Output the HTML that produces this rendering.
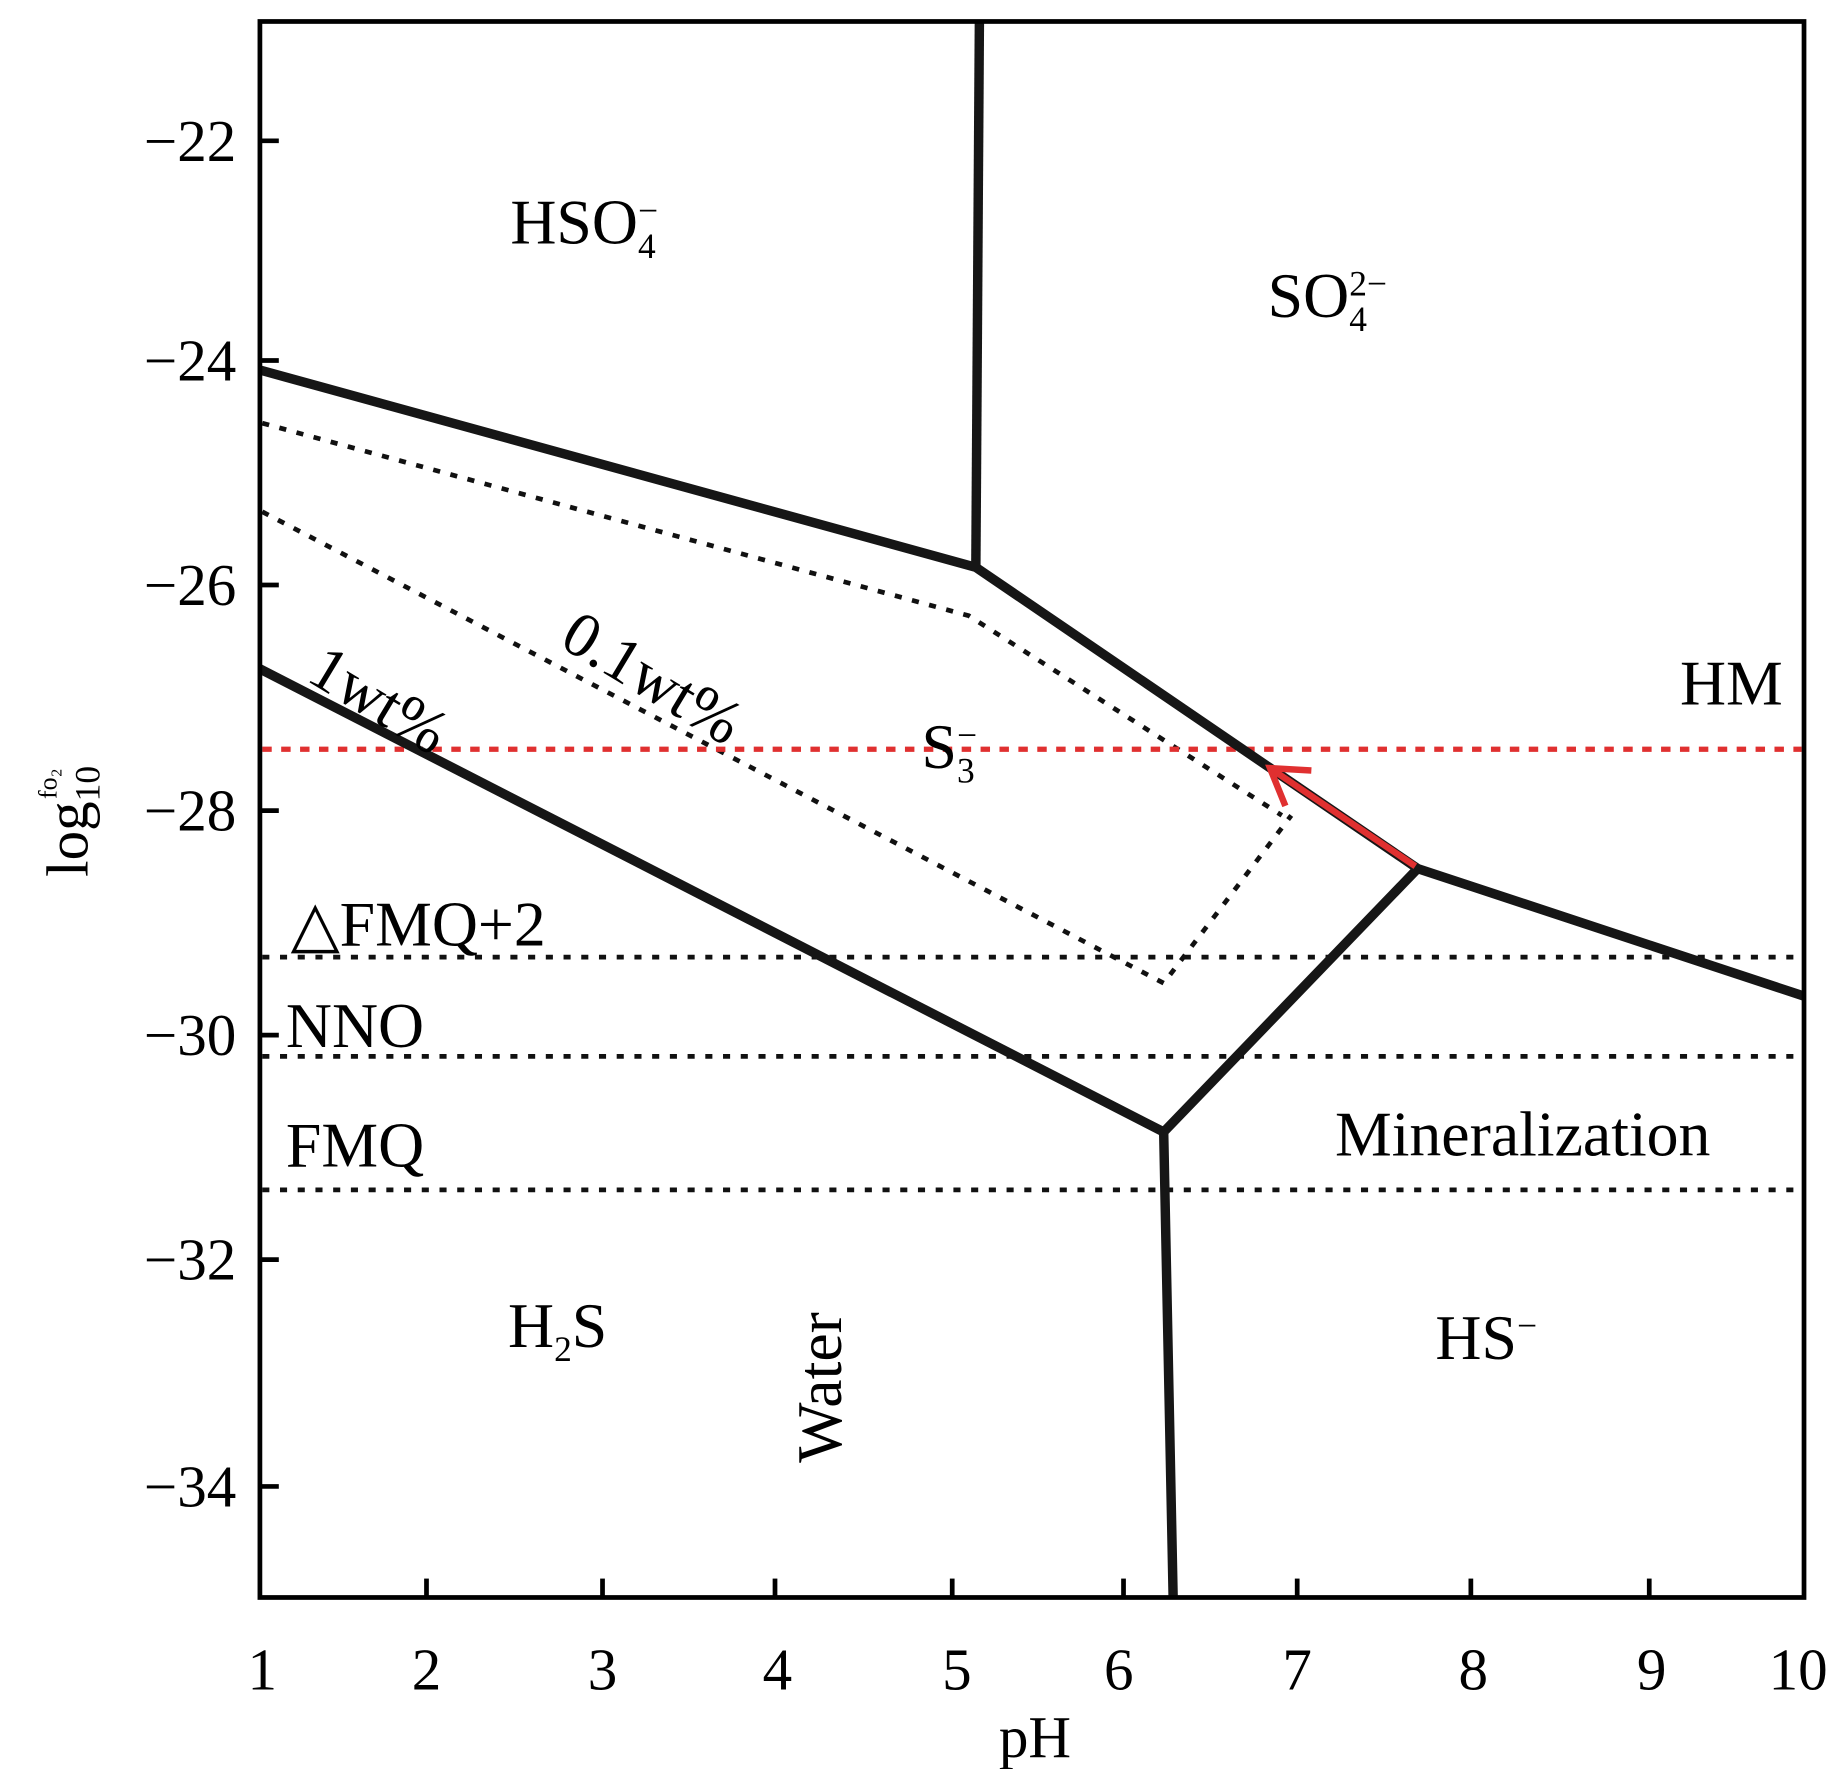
<!DOCTYPE html>
<html><head><meta charset="utf-8"><style>html,body{margin:0;padding:0;background:#fff}svg{display:block}</style></head>
<body>
<svg width="1843" height="1769" viewBox="0 0 1560 1497" xmlns="http://www.w3.org/2000/svg" font-family="'Liberation Serif', serif">
<rect width="1560" height="1497" fill="#fff"/>
<g stroke="#111" stroke-width="4" stroke-dasharray="6,9" fill="none">
<line x1="222" y1="810" x2="1525" y2="810"/>
<line x1="222" y1="894" x2="1525" y2="894"/>
<line x1="222" y1="1007" x2="1525" y2="1007"/>
<polyline points="222,358 820,521 1085,690"/>
<polyline points="222,433 985,832 1093,690"/>
</g>
<line x1="222" y1="634" x2="1525" y2="634" stroke="#e03030" stroke-width="4.5" stroke-dasharray="8,8"/>
<g stroke="#161616" stroke-width="8" fill="none" stroke-linejoin="miter">
<polyline points="220,313 826,480 1200,735 1527,843"/>
<line x1="829" y1="18" x2="826" y2="480"/>
<polyline points="1200,735 985,958 993,1352"/>
<line x1="220" y1="566" x2="985" y2="958"/>
</g>
<g stroke="#e03030" stroke-width="5.5" fill="none">
<line x1="1198" y1="733" x2="1075" y2="650"/>
<polyline points="1110,652 1075,650 1088,682"/>
</g>
<rect x="220" y="18" width="1307" height="1334" fill="none" stroke="#000" stroke-width="4"/>
<g stroke="#000" stroke-width="4">
<line x1="220" y1="119" x2="236" y2="119"/><line x1="220" y1="305" x2="236" y2="305"/>
<line x1="220" y1="495" x2="236" y2="495"/><line x1="220" y1="686" x2="236" y2="686"/>
<line x1="220" y1="876" x2="236" y2="876"/><line x1="220" y1="1066" x2="236" y2="1066"/>
<line x1="220" y1="1258" x2="236" y2="1258"/>
<line x1="361" y1="1352" x2="361" y2="1336"/><line x1="510" y1="1352" x2="510" y2="1336"/>
<line x1="656" y1="1352" x2="656" y2="1336"/><line x1="806" y1="1352" x2="806" y2="1336"/>
<line x1="951" y1="1352" x2="951" y2="1336"/><line x1="1098" y1="1352" x2="1098" y2="1336"/>
<line x1="1245" y1="1352" x2="1245" y2="1336"/><line x1="1396" y1="1352" x2="1396" y2="1336"/>
</g>
<g font-size="50" text-anchor="end">
<text x="200" y="136">−22</text><text x="200" y="322">−24</text><text x="200" y="512">−26</text>
<text x="200" y="703">−28</text><text x="200" y="893">−30</text><text x="200" y="1083">−32</text><text x="200" y="1275">−34</text>
</g>
<g font-size="50" text-anchor="middle">
<text x="222" y="1430">1</text><text x="361" y="1430">2</text><text x="510" y="1430">3</text><text x="658" y="1430">4</text>
<text x="810" y="1430">5</text><text x="947" y="1430">6</text><text x="1098" y="1430">7</text><text x="1247" y="1430">8</text>
<text x="1398" y="1430">9</text><text x="1522" y="1430">10</text>
<text x="876" y="1487">pH</text>
</g>
<text transform="translate(74,742) rotate(-90)" font-size="50">log<tspan font-size="30" dy="10">10</tspan><tspan font-size="22" dx="-28" dy="-36">fo₂</tspan></text>
<g font-size="54">
<text x="432" y="206">HSO<tspan font-size="30" dy="12">4</tspan><tspan font-size="30" dx="-15" dy="-30">−</tspan></text>
<text x="1073" y="268">SO<tspan font-size="30" dy="12">4</tspan><tspan font-size="30" dx="-15" dy="-30">2−</tspan></text>
<text x="1422" y="596">HM</text>
<text x="780" y="650">S<tspan font-size="30" dy="12">3</tspan><tspan font-size="30" dx="-15" dy="-30">−</tspan></text>
<text x="246" y="800">△FMQ+2</text>
<text x="242" y="886">NNO</text>
<text x="242" y="987">FMQ</text>
<text x="1130" y="978">Mineralization</text>
<text x="430" y="1140">H<tspan font-size="30" dy="12">2</tspan><tspan dy="-12">S</tspan></text>
<text x="1215" y="1150">HS<tspan font-size="30" dy="-18">−</tspan></text>
<text transform="translate(712,1238) rotate(-90)">Water</text>
<text transform="translate(258,575) rotate(31)">1wt%</text>
<text transform="translate(472,546) rotate(31)">0.1wt%</text>
</g>
</svg>
</body></html>
